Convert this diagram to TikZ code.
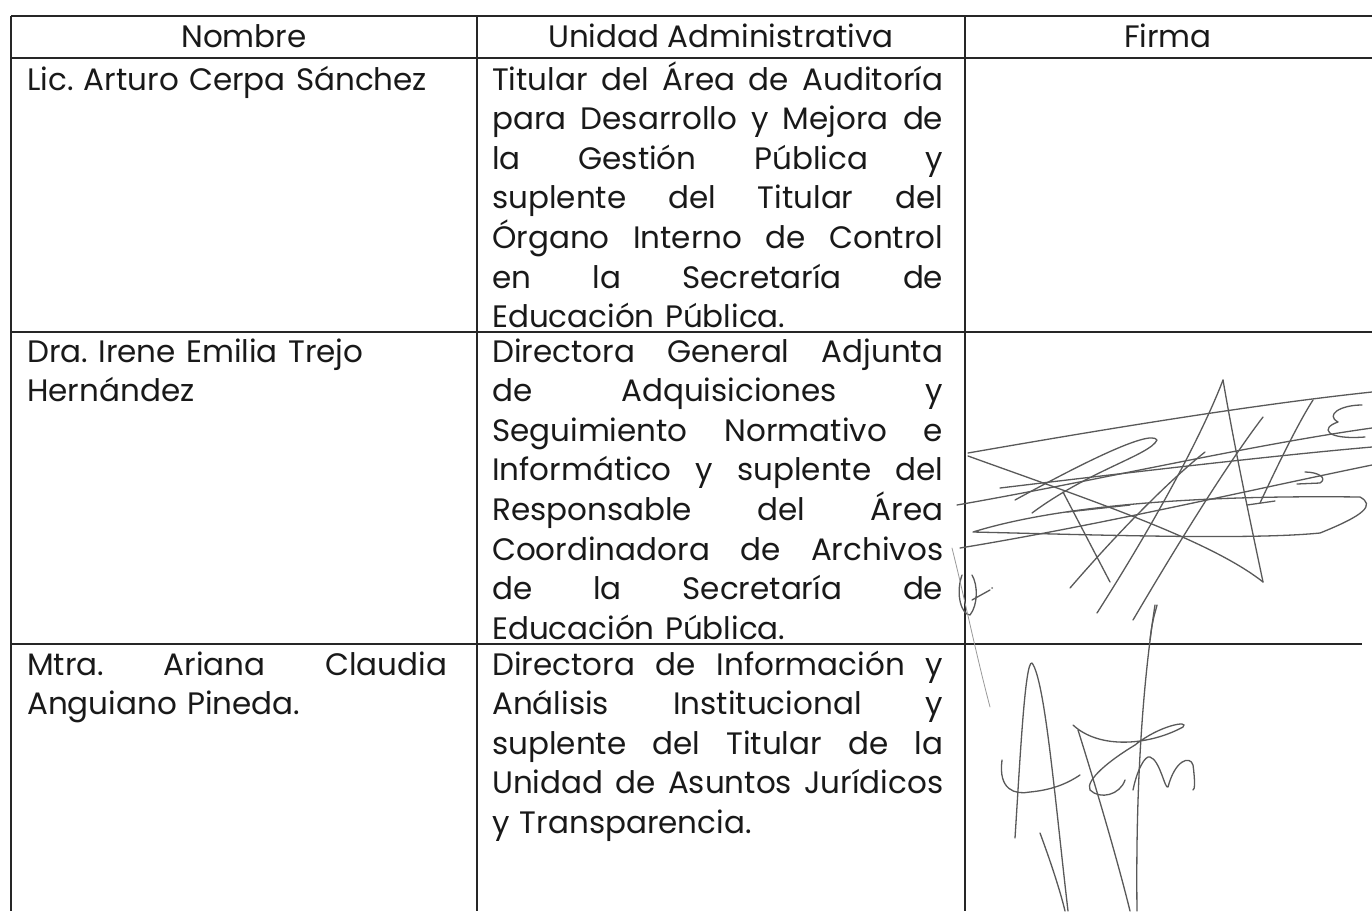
\documentclass[tikz,border=0pt]{standalone}
\usepackage{fontspec}
\setmainfont{Poppins}
\frenchspacing
\newcommand\JA[1]{\makebox[420pt][s]{\spaceskip=\fontdimen2\font plus 1fil\relax #1}}
\newcommand\JB[1]{\makebox[451pt][s]{\spaceskip=\fontdimen2\font plus 1fil\relax #1}}
\tikzset{
  rule/.style={draw=black!85, line width=1.6pt},
  cell/.style={anchor=base west, inner sep=0pt, align=left, text=black!90,
    font=\fontsize{31}{39.6}\selectfont},
  colA/.style={cell, text width=420pt},
  colB/.style={cell, text width=451pt},
  head/.style={anchor=base, inner sep=0pt, text=black!90, font=\fontsize{31}{39.6}\selectfont},
  sig/.style={draw=black!65, line width=1.3pt, line cap=round, line join=round},
  faint/.style={draw=black!40, line width=0.8pt, line cap=round}
}
\begin{document}
\begin{tikzpicture}[x=1pt,y=-1pt]
\useasboundingbox (0,0) rectangle (1372,911);
\fill[white] (0,0) rectangle (1372,911);
% grid
\coordinate (tl) at (11,16); \coordinate (tr) at (1372,16);
\coordinate (h1l) at (11,58); \coordinate (h1r) at (1372,58);
\coordinate (h2l) at (11,332); \coordinate (h2r) at (1372,332);
\coordinate (h3l) at (11,644); \coordinate (h3r) at (1362,644);
\coordinate (v1t) at (11,16); \coordinate (v1b) at (11,911);
\coordinate (v2t) at (477,16); \coordinate (v2b) at (477,911);
\coordinate (v3t) at (965,16); \coordinate (v3b) at (965,911);
\draw[rule] (tl) -- (tr);
\draw[rule] (h1l) -- (h1r);
\draw[rule] (h2l) -- (h2r);
\draw[rule] (h3l) -- (h3r);
\draw[rule] (v1t) -- (v1b);
\draw[rule] (v2t) -- (v2b);
\draw[rule] (v3t) -- (v3b);
% header
\node[head] (hn) at (244,47) {Nombre};
\node[head] (hu) at (721,47) {Unidad Administrativa};
\node[head] (hf) at (1168,47) {Firma};
% row 1
\node[colA] (n1) at (27,90) {Lic. Arturo Cerpa Sánchez};
\node[colB] (u1) at (492,90) {\JB{Titular del Área de Auditoría}\\
\JB{para Desarrollo y Mejora de}\\
\JB{la Gestión Pública y}\\
\JB{suplente del Titular del}\\
\JB{Órgano Interno de Control}\\
\JB{en la Secretaría de}\\
Educación Pública.};
% row 2
\node[colA] (n2) at (27,362) {Dra. Irene Emilia Trejo\\Hernández};
\node[colB] (u2) at (492,362) {\JB{Directora General Adjunta}\\
\JB{de Adquisiciones y}\\
\JB{Seguimiento Normativo e}\\
\JB{Informático y suplente del}\\
\JB{Responsable del Área}\\
\JB{Coordinadora de Archivos}\\
\JB{de la Secretaría de}\\
Educación Pública.};
% row 3
\node[colA] (n3) at (27,675) {\JA{Mtra. Ariana Claudia}\\Anguiano Pineda.};
\node[colB] (u3) at (492,675) {\JB{Directora de Información y}\\
\JB{Análisis Institucional y}\\
\JB{suplente del Titular de la}\\
\JB{Unidad de Asuntos Jurídicos}\\
y Transparencia.};
% signature 1
\draw[sig] (968,453) .. controls (1100,430) and (1250,405) .. (1372,392);
\draw[sig] (968,456) .. controls (1090,500) and (1210,540) .. (1263,582);
\draw[sig] (957,505) .. controls (1100,480) and (1250,445) .. (1372,428);
\draw[sig] (1000,488) .. controls (1150,470) and (1280,455) .. (1372,447);
\draw[sig] (1015,500) .. controls (1070,470) and (1150,428) .. (1157,440) .. controls (1150,455) and (1090,470) .. (1032,513);
\draw[sig] (973,532) .. controls (1060,505) and (1200,495) .. (1360,497) .. controls (1375,505) and (1365,515) .. (1320,533) .. controls (1250,540) and (1100,535) .. (973,532);
\draw[sig] (960,548) .. controls (1100,525) and (1250,490) .. (1372,465);
\draw[sig] (1067,512) -- (1130,505);
\draw[sig] (1063,492) -- (1110,582);
\draw[sig] (1070,588) .. controls (1120,530) and (1170,480) .. (1205,452);
\draw[sig] (1097,613) .. controls (1150,530) and (1200,440) .. (1223,380);
\draw[sig] (1223,380) .. controls (1235,450) and (1250,520) .. (1263,582);
\draw[sig] (1133,620) .. controls (1180,540) and (1230,460) .. (1263,417);
\draw[sig] (1260,503) .. controls (1280,460) and (1300,420) .. (1313,400);
\draw[sig] (1247,505) -- (1275,501);
\draw[sig] (1297,484) -- (1320,483) .. controls (1328,478) and (1318,472) .. (1305,472);
\draw[sig] (1362,405) .. controls (1340,405) and (1325,415) .. (1338,422) .. controls (1320,428) and (1325,440) .. (1365,437);
\draw[sig] (962,575) .. controls (955,595) and (962,615) .. (970,615) .. controls (978,605) and (978,585) .. (972,575);
\draw[sig] (972,600) -- (990,590);
\fill[black!55] (992,588) circle (1pt);
\draw[faint] (952,548) .. controls (965,600) and (975,650) .. (990,707);
% signature 2
\draw[sig] (1015,838) .. controls (1020,760) and (1025,660) .. (1032,663) .. controls (1045,680) and (1055,800) .. (1068,911);
\draw[sig] (1002,760) .. controls (998,790) and (1015,795) .. (1030,792) .. controls (1050,790) and (1065,785) .. (1080,775);
\draw[sig] (1073,725) .. controls (1100,750) and (1150,745) .. (1183,727) .. controls (1190,720) and (1160,725) .. (1135,745) .. controls (1110,760) and (1085,780) .. (1090,790) .. controls (1100,800) and (1120,795) .. (1125,780);
\draw[sig] (1133,790) .. controls (1137,770) and (1145,755) .. (1150,757) .. controls (1160,760) and (1165,790) .. (1168,787) .. controls (1175,760) and (1190,755) .. (1193,765) .. controls (1195,780) and (1195,790) .. (1193,790);
\draw[sig] (1155,605) .. controls (1148,650) and (1135,750) .. (1137,911);
\draw[sig] (1150,640) .. controls (1152,620) and (1156,610) .. (1157,605);
\draw[sig] (1078,730) .. controls (1100,800) and (1120,870) .. (1130,911);
\draw[sig] (1040,833) .. controls (1050,860) and (1060,890) .. (1065,911);
\end{tikzpicture}
\end{document}
